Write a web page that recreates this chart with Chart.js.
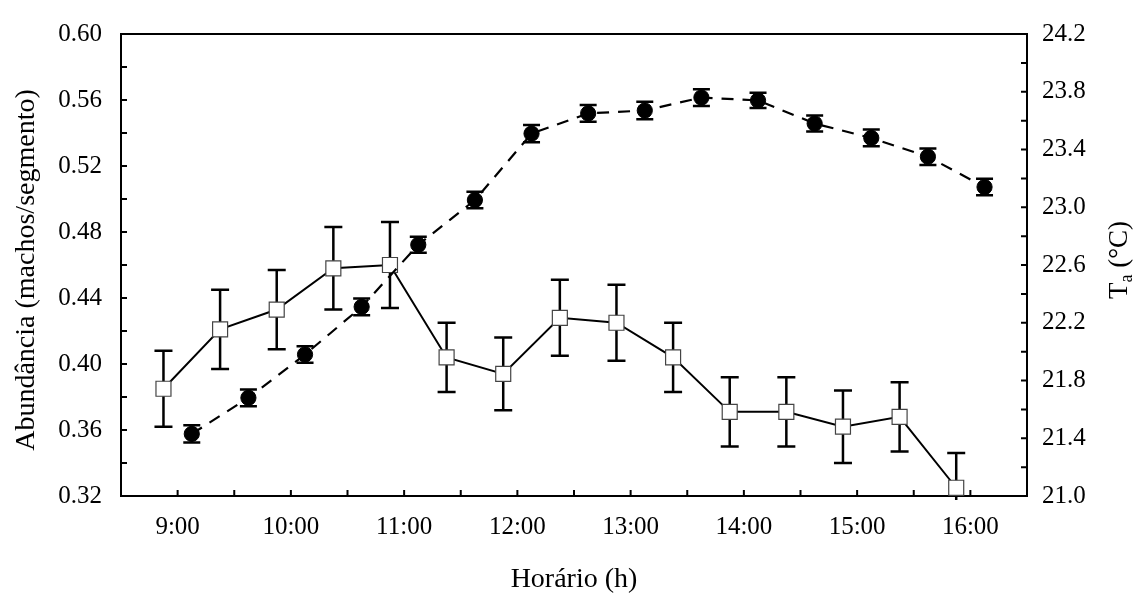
<!DOCTYPE html>
<html>
<head>
<meta charset="utf-8">
<script src="https://cdn.jsdelivr.net/npm/chart.js@4"></script>
<style>
  body { margin: 0; background: #fff; }
  #wrap { width: 1142px; height: 593px; }
</style>
</head>
<body>
<div id="wrap"><canvas id="ritmo_Chart" width="1142" height="593"></canvas></div>
<script>
// abundance (left axis), sampled every half hour
const abundTimes = [8.875, 9.375, 9.875, 10.375, 10.875, 11.375, 11.875, 12.375, 12.875, 13.375, 13.875, 14.375, 14.875, 15.375, 15.875];
const abundance = [0.385, 0.421, 0.433, 0.458, 0.460, 0.404, 0.394, 0.428, 0.425, 0.404, 0.371, 0.371, 0.362, 0.368, 0.325];
const abundErr = [0.023, 0.024, 0.024, 0.025, 0.026, 0.021, 0.022, 0.023, 0.023, 0.021, 0.021, 0.021, 0.022, 0.021, 0.021];

// air temperature (right axis)
const tempTimes = [9.125, 9.625, 10.125, 10.625, 11.125, 11.625, 12.125, 12.625, 13.125, 13.625, 14.125, 14.625, 15.125, 15.625, 16.125];
const temperature = [21.43, 21.68, 21.98, 22.31, 22.74, 23.05, 23.51, 23.65, 23.67, 23.76, 23.74, 23.58, 23.48, 23.35, 23.14];
const tempErr = [0.06, 0.058, 0.057, 0.058, 0.055, 0.057, 0.059, 0.058, 0.06, 0.058, 0.053, 0.055, 0.058, 0.057, 0.057];

const hourLabels = ['9:00', '10:00', '11:00', '12:00', '13:00', '14:00', '15:00', '16:00'];

const FONT = '"Liberation Serif", "Times New Roman", serif';

// error bars, inward ticks, top frame line and the axis titles
const extras = {
  id: 'extras',
  beforeDatasetsDraw(chart) {
    const ctx = chart.ctx;
    const a = chart.chartArea;
    ctx.save();
    // the original lets bars poke only a few px past the frame
    ctx.beginPath();
    ctx.rect(a.left, a.top - 4, a.right - a.left, a.bottom - a.top + 8);
    ctx.clip();
    ctx.strokeStyle = '#000';
    ctx.lineWidth = 2.5;
    chart.data.datasets.forEach((ds) => {
      const ys = chart.scales[ds.yAxisID];
      const xs = chart.scales.x;
      const cap = ds.errCap / 2;
      ds.data.forEach((p, i) => {
        const x = xs.getPixelForValue(p.x);
        const top = ys.getPixelForValue(p.y + ds.err[i]);
        const bot = ys.getPixelForValue(p.y - ds.err[i]);
        ctx.beginPath();
        ctx.moveTo(x, top); ctx.lineTo(x, bot);
        ctx.moveTo(x - cap, top); ctx.lineTo(x + cap, top);
        ctx.moveTo(x - cap, bot); ctx.lineTo(x + cap, bot);
        ctx.stroke();
      });
    });
    ctx.restore();
  },
  afterDraw(chart) {
    const ctx = chart.ctx;
    const a = chart.chartArea;
    const len = 6;
    ctx.save();
    ctx.strokeStyle = '#000';
    ctx.lineWidth = 2;
    ctx.beginPath();
    ctx.moveTo(a.left - 1, a.top); ctx.lineTo(a.right + 1, a.top);
    chart.scales.x.ticks.forEach(t => {
      const x = chart.scales.x.getPixelForValue(t.value);
      ctx.moveTo(x, a.bottom); ctx.lineTo(x, a.bottom - len);
    });
    chart.scales.yAbund.ticks.forEach(t => {
      const y = chart.scales.yAbund.getPixelForValue(t.value);
      ctx.moveTo(a.left, y); ctx.lineTo(a.left + len, y);
    });
    chart.scales.yTemp.ticks.forEach(t => {
      const y = chart.scales.yTemp.getPixelForValue(t.value);
      ctx.moveTo(a.right, y); ctx.lineTo(a.right - len, y);
    });
    ctx.stroke();

    ctx.fillStyle = '#000';
    ctx.font = '28px ' + FONT;
    ctx.textAlign = 'center';
    ctx.textBaseline = 'alphabetic';
    ctx.fillText('Horário (h)', (a.left + a.right) / 2, 587);

    ctx.save();
    ctx.translate(34, 270);
    ctx.rotate(-Math.PI / 2);
    ctx.fillText('Abundância (machos/segmento)', 0, 0);
    ctx.restore();

    // T_a (°C) with subscript
    ctx.save();
    ctx.translate(1127, 260);
    ctx.rotate(-Math.PI / 2);
    ctx.textAlign = 'left';
    const big = '27px ' + FONT, small = '18px ' + FONT;
    ctx.font = big;
    const wT = ctx.measureText('T').width;
    const wRest = ctx.measureText(' (°C)').width;
    ctx.font = small;
    const wa = ctx.measureText('a').width;
    let x0 = -(wT + wa + wRest) / 2;
    ctx.font = big;
    ctx.fillText('T', x0, 0);
    ctx.font = small;
    ctx.fillText('a', x0 + wT, 5);
    ctx.font = big;
    ctx.fillText(' (°C)', x0 + wT + wa, 0);
    ctx.restore();

    ctx.restore();
  }
};

const data = {
  datasets: [{
    label: 'Ta',
    data: tempTimes.map((t, i) => ({ x: t, y: temperature[i] })),
    err: tempErr,
    errCap: 17,
    yAxisID: 'yTemp',
    borderColor: '#000',
    borderWidth: 2.2,
    borderDash: [12, 9],
    pointStyle: 'circle',
    pointRadius: 7.6,
    pointBackgroundColor: '#000',
    pointBorderColor: '#000',
    pointBorderWidth: 1,
    order: 0
  }, {
    label: 'Abundância',
    data: abundTimes.map((t, i) => ({ x: t, y: abundance[i] })),
    err: abundErr,
    errCap: 18,
    yAxisID: 'yAbund',
    borderColor: '#000',
    borderWidth: 2,
    pointStyle: 'rect',
    pointRadius: 10.6,
    pointBackgroundColor: '#fff',
    pointBorderColor: '#444',
    pointBorderWidth: 1.2,
    order: 1
  }]
};

const config = {
  type: 'line',
  data: data,
  plugins: [extras],
  options: {
    responsive: false,
    animation: false,
    layout: { padding: { top: 24, left: 0, right: 0, bottom: 0 } },
    plugins: { legend: { display: false }, tooltip: { enabled: false } },
    scales: {
      x: {
        type: 'linear',
        min: 8.5,
        max: 16.5,
        afterFit(s) { s.height = 97; },
        afterBuildTicks(s) {
          const t = [];
          for (let v = 8.5; v <= 16.5001; v += 0.5) t.push({ value: v });
          s.ticks = t;
        },
        ticks: {
          autoSkip: false,
          maxRotation: 0,
          padding: 16,
          color: '#000',
          font: { family: FONT, size: 25 },
          callback: (v) => Number.isInteger(v) ? hourLabels[v - 9] : ''
        },
        grid: { display: false, drawTicks: false },
        border: { display: true, color: '#000', width: 2 }
      },
      yAbund: {
        position: 'left',
        min: 0.32,
        max: 0.60,
        afterFit(s) { s.width = 121; },
        afterBuildTicks(s) {
          const t = [];
          for (let k = 0; k <= 14; k++) t.push({ value: +(0.32 + k * 0.02).toFixed(2) });
          s.ticks = t;
        },
        ticks: {
          autoSkip: false,
          padding: 19,
          color: '#000',
          font: { family: FONT, size: 25 },
          callback: (v, i) => i % 2 === 0 ? v.toFixed(2) : ''
        },
        grid: { display: false, drawTicks: false },
        border: { display: true, color: '#000', width: 2 }
      },
      yTemp: {
        position: 'right',
        min: 21.0,
        max: 24.2,
        afterFit(s) { s.width = 115; },
        afterBuildTicks(s) {
          const t = [];
          for (let k = 0; k <= 16; k++) t.push({ value: +(21 + k * 0.2).toFixed(1) });
          s.ticks = t;
        },
        ticks: {
          autoSkip: false,
          padding: 15,
          color: '#000',
          font: { family: FONT, size: 25 },
          callback: (v, i) => i % 2 === 0 ? v.toFixed(1) : ''
        },
        grid: { display: false, drawTicks: false },
        border: { display: true, color: '#000', width: 2 }
      }
    }
  }
};

const myChart = new Chart(
  document.getElementById('ritmo_Chart'),
  config
);
</script>
</body>
</html>
